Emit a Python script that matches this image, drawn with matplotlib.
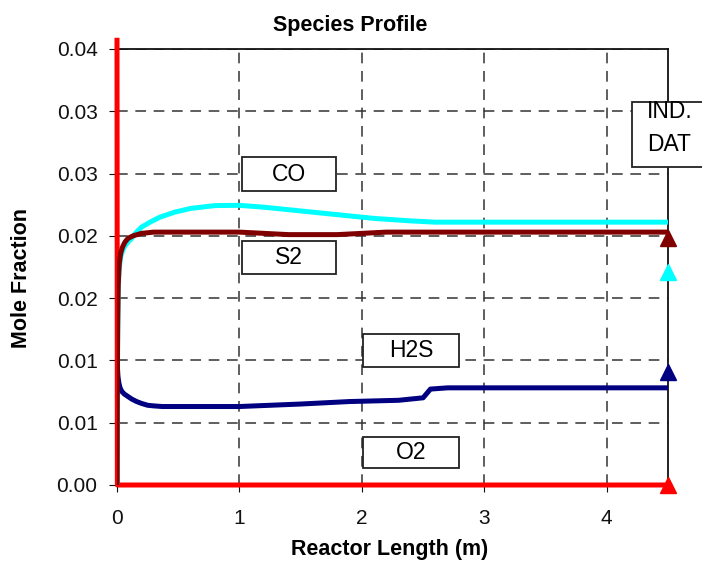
import matplotlib
matplotlib.use("Agg")
import matplotlib.pyplot as plt
from matplotlib.patches import Rectangle

plt.rcParams['font.family'] = ['Liberation Sans', 'DejaVu Sans']

# Reactor length (m) / mole fraction for each species
x_o2 = [0.0, 0.003, 4.5]
o2 = [0.0357, 0.0, 0.0]

x_co = [0.0, 0.003, 0.006, 0.01, 0.015, 0.02, 0.03, 0.045, 0.065, 0.09, 0.12, 0.15,
        0.2, 0.27, 0.35, 0.47, 0.6, 0.8, 1.0, 1.2, 1.5, 1.8, 2.1, 2.4, 2.6, 3.0, 4.5]
co = [0.0, 0.0085, 0.0125, 0.0155, 0.0168, 0.0175, 0.0183, 0.0188, 0.0192, 0.0195,
      0.0198, 0.0202, 0.0207, 0.0211, 0.0215, 0.0219, 0.0222, 0.02243, 0.02245,
      0.0223, 0.0220, 0.0217, 0.0214, 0.0212, 0.0211, 0.0211, 0.0211]

x_s2 = [0.0, 0.003, 0.006, 0.01, 0.015, 0.02, 0.03, 0.045, 0.065, 0.09, 0.13, 0.2,
        0.3, 0.7, 1.0, 1.2, 1.4, 1.8, 2.0, 2.2, 2.6, 3.5, 4.5]
s2 = [0.0, 0.0090, 0.0130, 0.0160, 0.0172, 0.0179, 0.0186, 0.0191, 0.0195, 0.0198,
      0.0200, 0.0202, 0.0203, 0.0203, 0.0203, 0.0202, 0.0201, 0.0201, 0.0202,
      0.0203, 0.0203, 0.0203, 0.0203]

x_h2s = [0.0, 0.003, 0.008, 0.015, 0.025, 0.04, 0.06, 0.09, 0.12, 0.16, 0.2, 0.25,
         0.3, 0.37, 1.0, 1.5, 1.9, 2.3, 2.5, 2.56, 2.7, 4.5]
h2s = [0.0105, 0.0095, 0.0087, 0.0082, 0.0078, 0.0075, 0.0073, 0.0071, 0.0069,
       0.0067, 0.00655, 0.0064, 0.00635, 0.0063, 0.0063, 0.0065, 0.0067, 0.0068,
       0.0070, 0.0077, 0.0078, 0.0078]

# industrial data points at the reactor outlet
ind_x = 4.5
ind_s2 = 0.0198
ind_co = 0.0171
ind_h2s = 0.0091
ind_o2 = 0.0

y_ticks = [0.0, 0.005, 0.01, 0.015, 0.02, 0.025, 0.03, 0.035]
y_labels = ['0.00', '0.01', '0.01', '0.02', '0.02', '0.03', '0.03', '0.04']
x_ticks = [0, 1, 2, 3, 4]

fig = plt.figure(figsize=(7.02, 5.62), dpi=100)
ax = fig.add_axes([117/702, 77/562, 551/702, 436/562])

lw = 3.6
ax.plot(x_o2, o2, color='#FF0000', lw=lw, clip_on=False, zorder=3)
ax.plot(x_co, co, color='#00FFFF', lw=lw, zorder=4)
ax.plot(x_h2s, h2s, color='#000080', lw=lw, zorder=5)
ax.plot(x_s2, s2, color='#800000', lw=lw, zorder=6)

ms = 12
ax.plot([ind_x], [ind_s2], '^', color='#800000', ms=ms, clip_on=False, zorder=7)
ax.plot([ind_x], [ind_co], '^', color='#00FFFF', ms=ms, clip_on=False, zorder=7)
ax.plot([ind_x], [ind_h2s], '^', color='#000080', ms=ms, clip_on=False, zorder=7)
ax.plot([ind_x], [ind_o2], '^', color='#FF0000', ms=ms, clip_on=False, zorder=7)

ax.set_xlim(0, 4.5)
ax.set_ylim(0, 0.035)
ax.set_yticks(y_ticks)
ax.set_yticklabels(y_labels)
ax.set_xticks(x_ticks)
ax.tick_params(axis='both', direction='out', labelsize=15, colors='#111111')
ax.tick_params(axis='y', length=6, pad=8)
ax.tick_params(axis='x', length=5, pad=12)

ax.grid(True, color='#333333', lw=1.1, linestyle=(0, (7, 5)), zorder=1)
ax.set_axisbelow(True)
for s in ax.spines.values():
    s.set_color('#111111')
    s.set_linewidth(1.3)

# species label boxes (x0, y0, x1, y1 in data units)
boxes = [
    ('CO', 1.021, 0.02360, 1.789, 0.02633),
    ('S2', 1.021, 0.01694, 1.789, 0.01959),
    ('H2S', 2.009, 0.00947, 2.793, 0.01212),
    ('O2', 2.009, 0.00137, 2.793, 0.00385),
]
for name, x0, y0, x1, y1 in boxes:
    ax.add_patch(Rectangle((x0, y0), x1 - x0, y1 - y0, facecolor='white',
                           edgecolor='#222222', lw=1.3, zorder=8))
    ax.text((x0 + x1) / 2, (y0 + y1) / 2, name, ha='center', va='center',
            fontsize=16.5, zorder=9)

ax.add_patch(Rectangle((4.206, 0.02553), 0.8, 0.00522, facecolor='white',
                       edgecolor='#222222', lw=1.3, zorder=8, clip_on=False))
ax.text(4.329, 0.02995, 'IND.', ha='left', va='center', fontsize=16.5, zorder=9)
ax.text(4.329, 0.02730, 'DAT', ha='left', va='center', fontsize=16.5, zorder=9)

fig.text(350/702, 1 - 25/562, 'Species Profile', ha='center', va='center',
         fontsize=15.5, fontweight='bold')
fig.text(390/702, 1 - 549/562, 'Reactor Length (m)', ha='center', va='center',
         fontsize=15.5, fontweight='bold')
fig.text(22/702, 1 - 278/562, 'Mole Fraction', ha='center', va='center',
         rotation=90, fontsize=15.5, fontweight='bold')

fig.savefig('out.png', dpi=100)
